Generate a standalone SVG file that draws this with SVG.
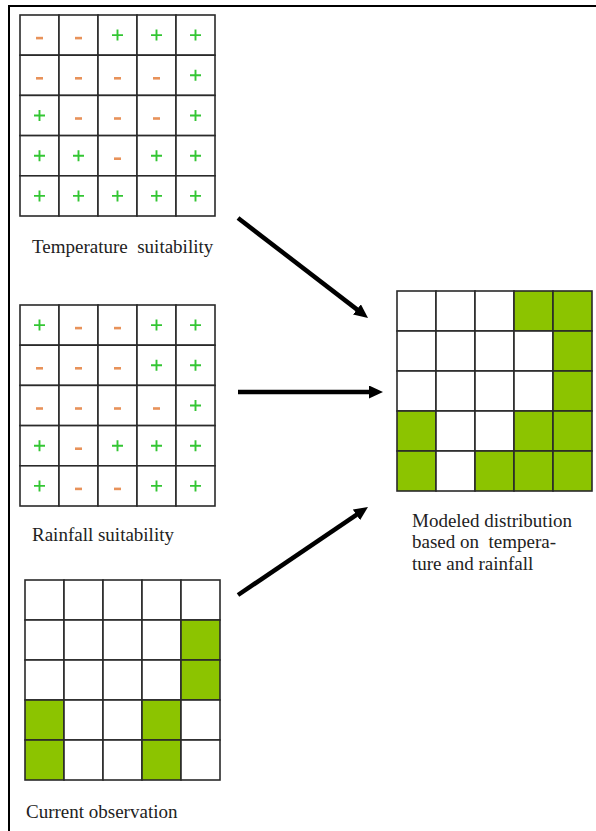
<svg xmlns="http://www.w3.org/2000/svg" xmlns:xlink="http://www.w3.org/1999/xlink" width="596" height="831" viewBox="0 0 596 831">
  <style>
    .cell { fill: #ffffff; stroke: #2a2a2a; stroke-width: 1.6; }
    .on { fill: #8cc400; }
    .lbl { font-family: "Liberation Serif", "Times New Roman", serif; font-size: 19px; fill: #222222; white-space: pre; }
    .arrow { stroke: #000000; stroke-width: 4.5; fill: none; marker-end: url(#head); }
  </style>
  <defs>
    <path id="plus" d="M-5.5,0 H5.5 M0,-5.5 V5.5" stroke="#33c633" stroke-width="1.9" fill="none"/>
    <path id="minus" d="M-3.5,3 H3.5" stroke="#e8925a" stroke-width="2.6" fill="none"/>
    <marker id="head" viewBox="0 0 14 13" refX="4" refY="6.5" markerWidth="14" markerHeight="13" markerUnits="userSpaceOnUse" orient="auto">
      <path d="M0,0 L14,6.5 L0,13 z" fill="#000000"/>
    </marker>
  </defs>

  <rect width="596" height="831" fill="#ffffff"/>
  <!-- frame: top and left edges only -->
  <path d="M9,831 V6 H596" stroke="#000000" stroke-width="2" fill="none"/>

  <!-- temperature suitability grid -->
  <g id="temperature">
    <g transform="translate(20,15)">
      <rect class="cell" x="0" y="0" width="39" height="40.2"/><rect class="cell" x="39" y="0" width="39" height="40.2"/><rect class="cell" x="78" y="0" width="39" height="40.2"/><rect class="cell" x="117" y="0" width="39" height="40.2"/><rect class="cell" x="156" y="0" width="39" height="40.2"/>
      <rect class="cell" x="0" y="40.2" width="39" height="40.2"/><rect class="cell" x="39" y="40.2" width="39" height="40.2"/><rect class="cell" x="78" y="40.2" width="39" height="40.2"/><rect class="cell" x="117" y="40.2" width="39" height="40.2"/><rect class="cell" x="156" y="40.2" width="39" height="40.2"/>
      <rect class="cell" x="0" y="80.4" width="39" height="40.2"/><rect class="cell" x="39" y="80.4" width="39" height="40.2"/><rect class="cell" x="78" y="80.4" width="39" height="40.2"/><rect class="cell" x="117" y="80.4" width="39" height="40.2"/><rect class="cell" x="156" y="80.4" width="39" height="40.2"/>
      <rect class="cell" x="0" y="120.6" width="39" height="40.2"/><rect class="cell" x="39" y="120.6" width="39" height="40.2"/><rect class="cell" x="78" y="120.6" width="39" height="40.2"/><rect class="cell" x="117" y="120.6" width="39" height="40.2"/><rect class="cell" x="156" y="120.6" width="39" height="40.2"/>
      <rect class="cell" x="0" y="160.8" width="39" height="40.2"/><rect class="cell" x="39" y="160.8" width="39" height="40.2"/><rect class="cell" x="78" y="160.8" width="39" height="40.2"/><rect class="cell" x="117" y="160.8" width="39" height="40.2"/><rect class="cell" x="156" y="160.8" width="39" height="40.2"/>
      <!-- row 1 -->
      <use xlink:href="#minus" x="19.5" y="20.1"/><use xlink:href="#minus" x="58.5" y="20.1"/><use xlink:href="#plus" x="97.5" y="20.1"/><use xlink:href="#plus" x="136.5" y="20.1"/><use xlink:href="#plus" x="175.5" y="20.1"/>
      <!-- row 2 -->
      <use xlink:href="#minus" x="19.5" y="60.3"/><use xlink:href="#minus" x="58.5" y="60.3"/><use xlink:href="#minus" x="97.5" y="60.3"/><use xlink:href="#minus" x="136.5" y="60.3"/><use xlink:href="#plus" x="175.5" y="60.3"/>
      <!-- row 3 -->
      <use xlink:href="#plus" x="19.5" y="100.5"/><use xlink:href="#minus" x="58.5" y="100.5"/><use xlink:href="#minus" x="97.5" y="100.5"/><use xlink:href="#minus" x="136.5" y="100.5"/><use xlink:href="#plus" x="175.5" y="100.5"/>
      <!-- row 4 -->
      <use xlink:href="#plus" x="19.5" y="140.7"/><use xlink:href="#plus" x="58.5" y="140.7"/><use xlink:href="#minus" x="97.5" y="140.7"/><use xlink:href="#plus" x="136.5" y="140.7"/><use xlink:href="#plus" x="175.5" y="140.7"/>
      <!-- row 5 -->
      <use xlink:href="#plus" x="19.5" y="180.9"/><use xlink:href="#plus" x="58.5" y="180.9"/><use xlink:href="#plus" x="97.5" y="180.9"/><use xlink:href="#plus" x="136.5" y="180.9"/><use xlink:href="#plus" x="175.5" y="180.9"/>
    </g>
    <text class="lbl" x="32" y="253">Temperature  suitability</text>
  </g>

  <!-- rainfall suitability grid -->
  <g id="rainfall">
    <g transform="translate(20,305)">
      <rect class="cell" x="0" y="0" width="39" height="40.2"/><rect class="cell" x="39" y="0" width="39" height="40.2"/><rect class="cell" x="78" y="0" width="39" height="40.2"/><rect class="cell" x="117" y="0" width="39" height="40.2"/><rect class="cell" x="156" y="0" width="39" height="40.2"/>
      <rect class="cell" x="0" y="40.2" width="39" height="40.2"/><rect class="cell" x="39" y="40.2" width="39" height="40.2"/><rect class="cell" x="78" y="40.2" width="39" height="40.2"/><rect class="cell" x="117" y="40.2" width="39" height="40.2"/><rect class="cell" x="156" y="40.2" width="39" height="40.2"/>
      <rect class="cell" x="0" y="80.4" width="39" height="40.2"/><rect class="cell" x="39" y="80.4" width="39" height="40.2"/><rect class="cell" x="78" y="80.4" width="39" height="40.2"/><rect class="cell" x="117" y="80.4" width="39" height="40.2"/><rect class="cell" x="156" y="80.4" width="39" height="40.2"/>
      <rect class="cell" x="0" y="120.6" width="39" height="40.2"/><rect class="cell" x="39" y="120.6" width="39" height="40.2"/><rect class="cell" x="78" y="120.6" width="39" height="40.2"/><rect class="cell" x="117" y="120.6" width="39" height="40.2"/><rect class="cell" x="156" y="120.6" width="39" height="40.2"/>
      <rect class="cell" x="0" y="160.8" width="39" height="40.2"/><rect class="cell" x="39" y="160.8" width="39" height="40.2"/><rect class="cell" x="78" y="160.8" width="39" height="40.2"/><rect class="cell" x="117" y="160.8" width="39" height="40.2"/><rect class="cell" x="156" y="160.8" width="39" height="40.2"/>
      <!-- row 1 -->
      <use xlink:href="#plus" x="19.5" y="20.1"/><use xlink:href="#minus" x="58.5" y="20.1"/><use xlink:href="#minus" x="97.5" y="20.1"/><use xlink:href="#plus" x="136.5" y="20.1"/><use xlink:href="#plus" x="175.5" y="20.1"/>
      <!-- row 2 -->
      <use xlink:href="#minus" x="19.5" y="60.3"/><use xlink:href="#minus" x="58.5" y="60.3"/><use xlink:href="#minus" x="97.5" y="60.3"/><use xlink:href="#plus" x="136.5" y="60.3"/><use xlink:href="#plus" x="175.5" y="60.3"/>
      <!-- row 3 -->
      <use xlink:href="#minus" x="19.5" y="100.5"/><use xlink:href="#minus" x="58.5" y="100.5"/><use xlink:href="#minus" x="97.5" y="100.5"/><use xlink:href="#minus" x="136.5" y="100.5"/><use xlink:href="#plus" x="175.5" y="100.5"/>
      <!-- row 4 -->
      <use xlink:href="#plus" x="19.5" y="140.7"/><use xlink:href="#minus" x="58.5" y="140.7"/><use xlink:href="#plus" x="97.5" y="140.7"/><use xlink:href="#plus" x="136.5" y="140.7"/><use xlink:href="#plus" x="175.5" y="140.7"/>
      <!-- row 5 -->
      <use xlink:href="#plus" x="19.5" y="180.9"/><use xlink:href="#minus" x="58.5" y="180.9"/><use xlink:href="#minus" x="97.5" y="180.9"/><use xlink:href="#plus" x="136.5" y="180.9"/><use xlink:href="#plus" x="175.5" y="180.9"/>
    </g>
    <text class="lbl" x="32" y="541">Rainfall suitability</text>
  </g>

  <!-- current observation grid -->
  <g id="observation">
    <g transform="translate(25,580)">
      <rect class="cell" x="0" y="0" width="39" height="40"/><rect class="cell" x="39" y="0" width="39" height="40"/><rect class="cell" x="78" y="0" width="39" height="40"/><rect class="cell" x="117" y="0" width="39" height="40"/><rect class="cell" x="156" y="0" width="39" height="40"/>
      <rect class="cell" x="0" y="40" width="39" height="40"/><rect class="cell" x="39" y="40" width="39" height="40"/><rect class="cell" x="78" y="40" width="39" height="40"/><rect class="cell" x="117" y="40" width="39" height="40"/><rect class="cell on" x="156" y="40" width="39" height="40"/>
      <rect class="cell" x="0" y="80" width="39" height="40"/><rect class="cell" x="39" y="80" width="39" height="40"/><rect class="cell" x="78" y="80" width="39" height="40"/><rect class="cell" x="117" y="80" width="39" height="40"/><rect class="cell on" x="156" y="80" width="39" height="40"/>
      <rect class="cell on" x="0" y="120" width="39" height="40"/><rect class="cell" x="39" y="120" width="39" height="40"/><rect class="cell" x="78" y="120" width="39" height="40"/><rect class="cell on" x="117" y="120" width="39" height="40"/><rect class="cell" x="156" y="120" width="39" height="40"/>
      <rect class="cell on" x="0" y="160" width="39" height="40"/><rect class="cell" x="39" y="160" width="39" height="40"/><rect class="cell" x="78" y="160" width="39" height="40"/><rect class="cell on" x="117" y="160" width="39" height="40"/><rect class="cell" x="156" y="160" width="39" height="40"/>
    </g>
    <text class="lbl" x="26" y="818">Current observation</text>
  </g>

  <!-- modeled distribution grid -->
  <g id="modeled">
    <g transform="translate(397,291)">
      <rect class="cell" x="0" y="0" width="39" height="40"/><rect class="cell" x="39" y="0" width="39" height="40"/><rect class="cell" x="78" y="0" width="39" height="40"/><rect class="cell on" x="117" y="0" width="39" height="40"/><rect class="cell on" x="156" y="0" width="39" height="40"/>
      <rect class="cell" x="0" y="40" width="39" height="40"/><rect class="cell" x="39" y="40" width="39" height="40"/><rect class="cell" x="78" y="40" width="39" height="40"/><rect class="cell" x="117" y="40" width="39" height="40"/><rect class="cell on" x="156" y="40" width="39" height="40"/>
      <rect class="cell" x="0" y="80" width="39" height="40"/><rect class="cell" x="39" y="80" width="39" height="40"/><rect class="cell" x="78" y="80" width="39" height="40"/><rect class="cell" x="117" y="80" width="39" height="40"/><rect class="cell on" x="156" y="80" width="39" height="40"/>
      <rect class="cell on" x="0" y="120" width="39" height="40"/><rect class="cell" x="39" y="120" width="39" height="40"/><rect class="cell" x="78" y="120" width="39" height="40"/><rect class="cell on" x="117" y="120" width="39" height="40"/><rect class="cell on" x="156" y="120" width="39" height="40"/>
      <rect class="cell on" x="0" y="160" width="39" height="40"/><rect class="cell" x="39" y="160" width="39" height="40"/><rect class="cell on" x="78" y="160" width="39" height="40"/><rect class="cell on" x="117" y="160" width="39" height="40"/><rect class="cell on" x="156" y="160" width="39" height="40"/>
    </g>
    <text class="lbl" x="412" y="527">Modeled distribution</text>
    <text class="lbl" x="412" y="548">based on  tempera-</text>
    <text class="lbl" x="412" y="570">ture and rainfall</text>
  </g>

  <!-- connectors -->
  <g id="connectors">
    <line class="arrow" x1="238" y1="218" x2="360.1" y2="311.9"/>
    <line class="arrow" x1="238" y1="392" x2="373" y2="392"/>
    <line class="arrow" x1="238" y1="595" x2="359.7" y2="512.6"/>
  </g>
</svg>
